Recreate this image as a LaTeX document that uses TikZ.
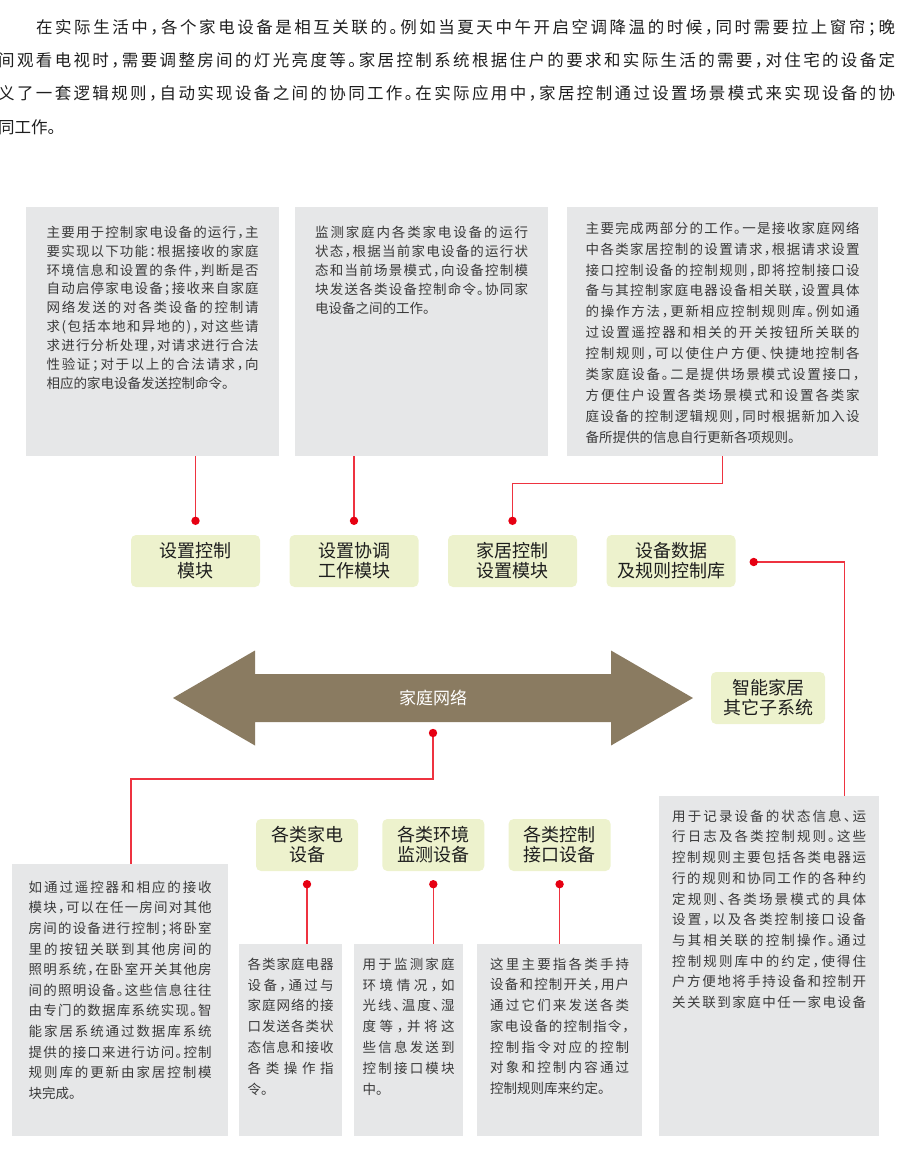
\documentclass[tikz,border=0pt]{standalone}
\usepackage{fontspec}
\setmainfont[RawFeature=+halt]{Noto Sans CJK SC}
\usetikzlibrary{calc,positioning}

\definecolor{boxgray}{HTML}{E6E7E8}
\definecolor{boxgreen}{HTML}{EDF2CD}
\definecolor{netbrown}{HTML}{8A7B61}
\definecolor{wirered}{HTML}{EE3340}
\definecolor{dotred}{HTML}{E60012}
\definecolor{txtgray}{HTML}{3A3A3A}
\definecolor{txtdark}{HTML}{1E1E1E}

% spread the characters of one line over the full width
\makeatletter
\def\jsp#1{\jsp@a#1\@nil}
\def\jsp@a#1{#1\jsp@b}
\def\jsp@b#1{\ifx\@nil#1\else\hfill#1\expandafter\jsp@b\fi}
\makeatother
\newcommand\jline[1]{\hbox to\hsize{\vrule height12.5pt width0pt\jsp{#1}}}
\newcommand\eline[1]{\hbox{\vrule height12.5pt width0pt #1}}
% #1 width, #2 height, #3 first baseline, #4 line distance, #5 lines
\newcommand\boxtext[5]{\vbox to #2{\hsize=#1\relax\baselineskip=#4\relax
  \lineskiplimit=-\maxdimen\vskip\dimexpr#3-12.5pt\relax #5\vfil}}

\tikzset{
  graybox/.style={fill=boxgray, anchor=north west, inner ysep=0pt, text=txtgray,
    font=\fontsize{13.5}{13.5}\selectfont},
  greenbox/.style={fill=boxgreen, rounded corners=5pt, minimum width=129pt,
    minimum height=52pt, inner sep=0pt, align=center, text=txtdark,
    font=\fontsize{18}{20}\selectfont},
  para/.style={anchor=base west, inner sep=0pt, text=txtdark,
    font=\fontsize{16.5}{16.5}\selectfont},
  wire/.style={draw=wirered, line width=1.2pt},
}

\begin{document}
\begin{tikzpicture}[x=1pt, y=1pt, on grid]
  \useasboundingbox (0,0) rectangle (900,-1151);

  % intro text
  \node[para] (p1) at (36,-33.3) {\hbox to 859pt{\jsp{在实际生活中，各个家电设备是相互关联的。例如当夏天中午开启空调降温的时候，同时需要拉上窗帘；晚}}};
  \node[para] (p2) at (-2,-66.3) {\hbox to 897pt{\jsp{间观看电视时，需要调整房间的灯光亮度等。家居控制系统根据住户的要求和实际生活的需要，对住宅的设备定}}};
  \node[para] (p3) at (-2,-99.8) {\hbox to 897pt{\jsp{义了一套逻辑规则，自动实现设备之间的协同工作。在实际应用中，家居控制通过设置场景模式来实现设备的协}}};
  \node[para] (p4) at (-2,-133.3) {同工作。};

  % upper description boxes
  \node[graybox, inner xsep=20.5pt] (boxA) at (26,-207) {\boxtext{212pt}{249pt}{30pt}{18.9pt}{%
    \jline{主要用于控制家电设备的运行，主}
    \jline{要实现以下功能：根据接收的家庭}
    \jline{环境信息和设置的条件，判断是否}
    \jline{自动启停家电设备；接收来自家庭}
    \jline{网络发送的对各类设备的控制请}
    \jline{求(包括本地和异地的)，对这些请}
    \jline{求进行分析处理，对请求进行合法}
    \jline{性验证；对于以上的合法请求，向}
    \eline{相应的家电设备发送控制命令。}}};
  \node[graybox, inner xsep=20pt] (boxB) at (295,-207) {\boxtext{213pt}{249pt}{30pt}{19pt}{%
    \jline{监测家庭内各类家电设备的运行}
    \jline{状态，根据当前家电设备的运行状}
    \jline{态和当前场景模式，向设备控制模}
    \jline{块发送各类设备控制命令。协同家}
    \eline{电设备之间的工作。}}};
  \node[graybox, inner xsep=18.5pt] (boxC) at (567,-207) {\boxtext{274pt}{249pt}{26pt}{20.9pt}{%
    \jline{主要完成两部分的工作。一是接收家庭网络}
    \jline{中各类家居控制的设置请求，根据请求设置}
    \jline{接口控制设备的控制规则，即将控制接口设}
    \jline{备与其控制家庭电器设备相关联，设置具体}
    \jline{的操作方法，更新相应控制规则库。例如通}
    \jline{过设置遥控器和相关的开关按钮所关联的}
    \jline{控制规则，可以使住户方便、快捷地控制各}
    \jline{类家庭设备。二是提供场景模式设置接口，}
    \jline{方便住户设置各类场景模式和设置各类家}
    \jline{庭设备的控制逻辑规则，同时根据新加入设}
    \eline{备所提供的信息自行更新各项规则。}}};

  % modules
  \node[greenbox] (m1) at (195.5,-561) {设置控制\\模块};
  \node[greenbox, node distance=158.5pt] (m2) [right of=m1] {设置协调\\工作模块};
  \node[greenbox, node distance=158.5pt] (m3) [right of=m2] {家居控制\\设置模块};
  \node[greenbox, node distance=158.5pt] (m4) [right of=m3] {设备数据\\及规则控制库};

  % home network
  \coordinate (netc) at (433,-698);
  \begin{scope}[shift={(netc)}]
    \fill[netbrown] (-260,0) -- (-178,47.5) -- (-178,24) -- (178,24) -- (178,47.5)
      -- (260,0) -- (178,-47.5) -- (178,-24) -- (-178,-24) -- (-178,-47.5) -- cycle;
  \end{scope}
  \node[text=white, font=\fontsize{17}{17}\selectfont] (net) at (netc) {家庭网络};
  \node[greenbox, minimum width=114pt] (sub) at (768,-698) {智能家居\\其它子系统};

  % devices
  \node[greenbox, minimum width=102pt] (g1) at (307,-845) {各类家电\\设备};
  \node[greenbox, minimum width=102pt, node distance=126.3pt] (g2) [right of=g1] {各类环境\\监测设备};
  \node[greenbox, minimum width=102pt, node distance=126.3pt] (g3) [right of=g2] {各类控制\\接口设备};

  % lower description boxes
  \node[graybox, inner xsep=16.5pt] (boxL) at (12,-864) {\boxtext{183pt}{272pt}{28pt}{20.6pt}{%
    \jline{如通过遥控器和相应的接收}
    \jline{模块，可以在任一房间对其他}
    \jline{房间的设备进行控制；将卧室}
    \jline{里的按钮关联到其他房间的}
    \jline{照明系统，在卧室开关其他房}
    \jline{间的照明设备。这些信息往往}
    \jline{由专门的数据库系统实现。智}
    \jline{能家居系统通过数据库系统}
    \jline{提供的接口来进行访问。控制}
    \jline{规则库的更新由家居控制模}
    \eline{块完成。}}};
  \node[graybox, inner xsep=8.5pt] (boxD1) at (239,-944) {\boxtext{86pt}{192pt}{25pt}{20.8pt}{%
    \jline{各类家庭电器}
    \jline{设备，通过与}
    \jline{家庭网络的接}
    \jline{口发送各类状}
    \jline{态信息和接收}
    \jline{各类操作指}
    \eline{令。}}};
  \node[graybox, inner xsep=8.5pt] (boxD2) at (354,-944) {\boxtext{92pt}{192pt}{25pt}{20.8pt}{%
    \jline{用于监测家庭}
    \jline{环境情况，如}
    \jline{光线、温度、湿}
    \jline{度等，并将这}
    \jline{些信息发送到}
    \jline{控制接口模块}
    \eline{中。}}};
  \node[graybox, inner xsep=13pt] (boxD3) at (477,-944) {\boxtext{139pt}{192pt}{25pt}{20.7pt}{%
    \jline{这里主要指各类手持}
    \jline{设备和控制开关，用户}
    \jline{通过它们来发送各类}
    \jline{家电设备的控制指令，}
    \jline{控制指令对应的控制}
    \jline{对象和控制内容通过}
    \eline{控制规则库来约定。}}};
  \node[graybox, inner xsep=13pt] (boxR) at (659,-796) {\boxtext{194pt}{340pt}{25pt}{20.7pt}{%
    \jline{用于记录设备的状态信息、运}
    \jline{行日志及各类控制规则。这些}
    \jline{控制规则主要包括各类电器运}
    \jline{行的规则和协同工作的各种约}
    \jline{定规则、各类场景模式的具体}
    \jline{设置，以及各类控制接口设备}
    \jline{与其相关联的控制操作。通过}
    \jline{控制规则库中的约定，使得住}
    \jline{户方便地将手持设备和控制开}
    \jline{关关联到家庭中任一家电设备}}};

  % connector ends
  \coordinate (m1dot) at ($(m1.north)+(0,14)$);
  \coordinate (m2dot) at ($(m2.north)+(0,14)$);
  \coordinate (m3dot) at ($(m3.north)+(0,14)$);
  \coordinate (m4dot) at ($(m4.east)+(18,-1)$);
  \coordinate (netdot) at ($(netc)+(0,-35)$);
  \coordinate (g1dot) at ($(g1.south)+(0,-13)$);
  \coordinate (g2dot) at ($(g2.south)+(0,-13)$);
  \coordinate (g3dot) at ($(g3.south)+(0,-13)$);
  \coordinate (rtap) at ($(boxR.north east)+(-35,0)$);
  \coordinate (ltap) at ($(boxL.north west)+(119,0)$);

  \draw[wire] (m1dot |- boxA.south) -- (m1dot);
  \draw[wire] (m2dot |- boxB.south) -- (m2dot);
  \draw[wire] (boxC.south) -- ++(0,-27) -| (m3dot);
  \draw[wire] (m4dot) -| (rtap);
  \draw[wire] (netdot) -- ++(0,-46) -| (ltap);
  \draw[wire] (g1dot) -- (g1dot |- boxD1.north);
  \draw[wire] (g2dot) -- (g2dot |- boxD2.north);
  \draw[wire] (g3dot) -- (g3dot |- boxD3.north);
  \foreach \d in {m1dot,m2dot,m3dot,m4dot,netdot,g1dot,g2dot,g3dot}
    \fill[dotred] (\d) circle (4.2pt);
\end{tikzpicture}
\end{document}
